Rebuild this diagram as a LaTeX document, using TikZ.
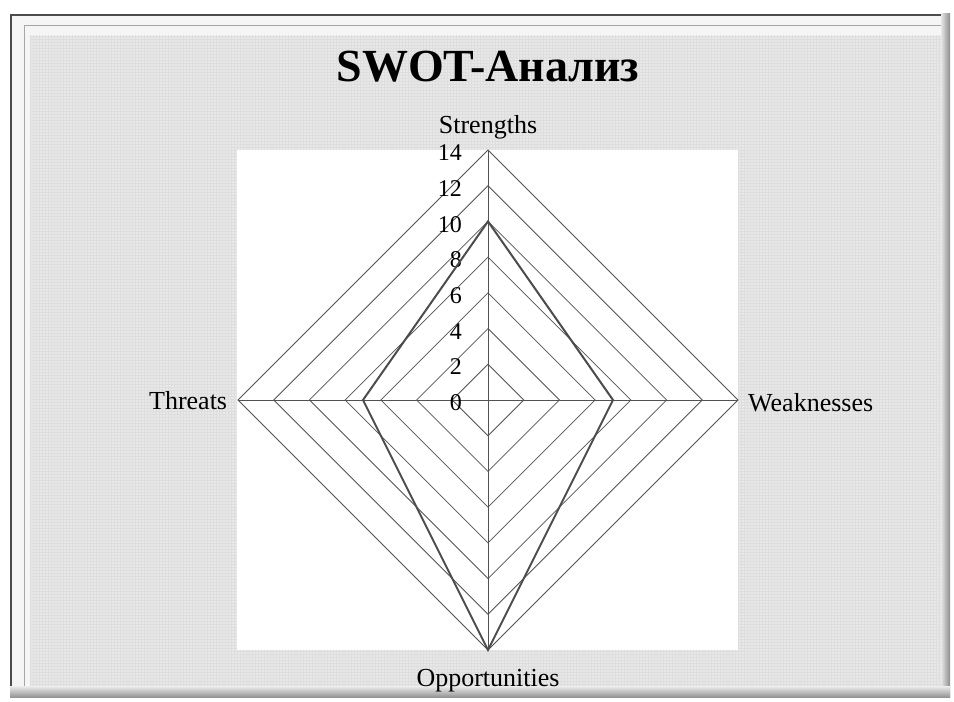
\documentclass[tikz,border=0pt]{standalone}
\usepackage{fontspec}
\setmainfont{Liberation Serif}
\usetikzlibrary{patterns}
\def\gridring(#1){\draw[gridline] (0,#1) -- (#1,0) -- (0,-#1) -- (-#1,0) -- cycle;}

\begin{document}
\begin{tikzpicture}[x=1pt, y=1pt,
	gridline/.style={line width=0.8pt, color=black!68},
	series/.style={line width=2pt, color=black!70, line join=miter},
	axislabel/.style={inner sep=0pt, font=\fontsize{26}{30}\selectfont},
	ticklabel/.style={inner sep=0pt, font=\fontsize{24}{28}\selectfont}]
			%%%%% START %%%%%
			
			\useasboundingbox (0, 0) rectangle (954, 702);
			\fill[white] (0, 0) rectangle (954, 702);
			
			% frame
			\fill[black!4] (10, 4) rectangle (950, 688);
			\fill[black!9] (30, 16) rectangle (942, 666);
			\fill[pattern=grid, pattern color=black!13] (30, 16) rectangle (942, 666);
			\draw[line width=0.8pt, color=black!35] (24, 4) -- (24, 677) -- (942, 677);
			\draw[line width=2.5pt, color=black!70] (11, 4) -- (11, 687) -- (950, 687);
			\shade[left color=black!10, right color=black!45] (941, 4) rectangle (950, 688);
			\shade[top color=black!10, bottom color=black!45] (10, 4) rectangle (950, 15);
			
			% plot area
			\fill[white] (237, 52) rectangle (738, 552);
			
			\node[font=\fontsize{46}{52}\selectfont\bfseries, anchor=base] (title) at (488, 620) {SWOT-Анализ};
			
			\begin{scope}[shift={(488, 302)}, x=17.857pt, y=17.857pt]
				\foreach \v in {2,4,...,14} {\gridring(\v)}
				\draw[gridline] (0, 14) -- (0, -14);
				\draw[gridline] (-14, 0) -- (14, 0);
				
				\foreach \v in {0,2,...,14}
					\node[ticklabel, anchor=base east] (t\v) at (-1.45, \v-0.6) {\v};
				
				\draw[series] (0, 10) -- (7, 0) -- (0, -14) -- (-7, 0) -- cycle;
				
				\node[axislabel, anchor=base] (strengths) at (0, 14.95) {Strengths};
				\node[axislabel, anchor=base west] (weaknesses) at (14.56, -0.62) {Weaknesses};
				\node[axislabel, anchor=base] (opportunities) at (0, -16.07) {Opportunities};
				\node[axislabel, anchor=base east] (threats) at (-14.6, -0.56) {Threats};
			\end{scope}
			
			%%%%% END %%%%%
\end{tikzpicture}
\end{document}
